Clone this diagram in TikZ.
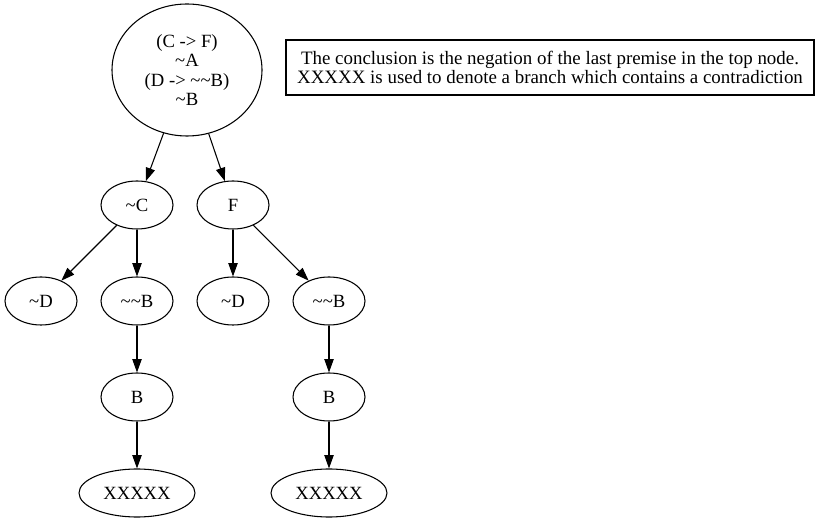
\documentclass[tikz,border=0pt]{standalone}
\usepackage{fontspec}
\setmainfont{Liberation Serif}
\usetikzlibrary{shapes, positioning, arrows.meta}
\newcommand{\tld}{\textasciitilde}

\begin{document}
\begin{tikzpicture}[x=0.75pt, y=-0.75pt, node distance=72pt, on grid, line width=0.8pt,
    main/.style = {draw, ellipse, minimum width=54pt, minimum height=36pt, inner sep=0pt,
        font=\fontsize{14pt}{14.5pt}\selectfont},
    leaf/.style = {main, minimum width=87pt},
    edge/.style = {-{Triangle[length=10pt, width=7pt]}}]
    \fill[white] (0,0) rectangle (824,523);
    \useasboundingbox (0,0) rectangle (824,523);

    \node[main, minimum width=112.5pt, minimum height=99pt, align=center] (top) at (187,70)
        {(C -> F)\\\tld A\\(D -> \tld\tld B)\\\tld B};
    \node[main] (nc) [below left=101.25pt and 37.5pt of top] {\tld C};
    \node[main] (f)  [right=of nc]                          {F};

    \node[main] (nd1)  [below left=72pt and 72pt of nc]  {\tld D};
    \node[main] (nnb1) [below=of nc]                     {\tld\tld B};
    \node[main] (nd2)  [below=of f]                      {\tld D};
    \node[main] (nnb2) [below right=72pt and 72pt of f]  {\tld\tld B};

    \node[main] (b1) [below=of nnb1] {B};
    \node[main] (b2) [below=of nnb2] {B};
    \node[leaf] (x1) [below=of b1]   {XXXXX};
    \node[leaf] (x2) [below=of b2]   {XXXXX};

    \node[draw, rectangle, minimum width=396pt, minimum height=41.25pt, inner sep=0pt,
        align=center, font=\fontsize{14.2pt}{14.25pt}\selectfont] (note) at (550,67.5)
        {The conclusion is the negation of the last premise in the top node.\\
         XXXXX is used to denote a branch which contains a contradiction};

    \draw[edge] (top) -- (nc);
    \draw[edge] (top) -- (f);
    \draw[edge] (nc) -- (nd1);
    \draw[edge] (nc) -- (nnb1);
    \draw[edge] (f) -- (nd2);
    \draw[edge] (f) -- (nnb2);
    \draw[edge] (nnb1) -- (b1);
    \draw[edge] (b1) -- (x1);
    \draw[edge] (nnb2) -- (b2);
    \draw[edge] (b2) -- (x2);
\end{tikzpicture}
\end{document}
